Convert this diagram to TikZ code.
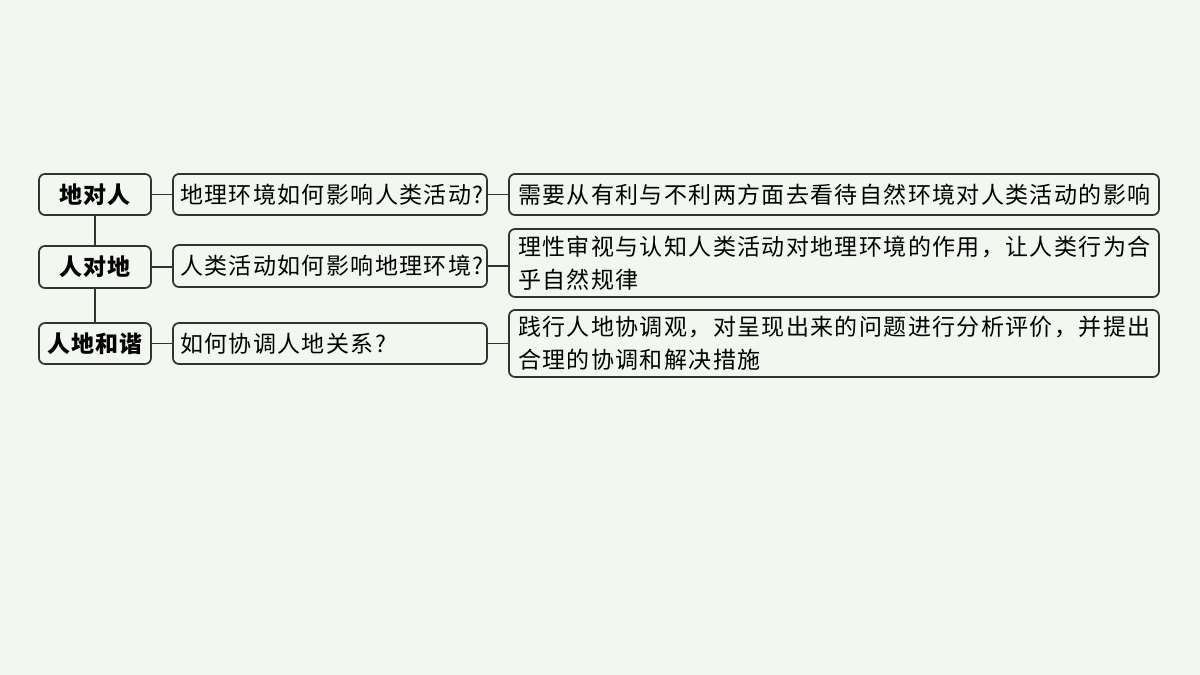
\documentclass[tikz,border=0pt]{standalone}
\usepackage{fontspec}
\setmainfont{Noto Sans CJK SC}
\newfontfamily\cjk[LetterSpace=6]{Noto Sans CJK SC}
\newfontfamily\cjkb[LetterSpace=4]{Noto Sans CJK SC}
\definecolor{bgc}{HTML}{F2F7F0}
\definecolor{linec}{HTML}{333333}
\tikzset{
  box/.style={draw=linec, line width=0.85pt, rounded corners=3pt,
    font=\cjk\fontsize{11.5}{16.5}\selectfont, anchor=center, inner ysep=0pt},
  topic/.style={box, minimum width=56pt, minimum height=20.5pt, inner xsep=0pt, font=\cjkb\bfseries\fontsize{11.5}{16.5}\selectfont},
  question/.style={box, text width=150pt, inner xsep=3.5pt, align=left, minimum height=20.5pt},
  answer/.style={box, text width=316pt, inner xsep=4.5pt, align=left},
  link/.style={draw=linec, line width=0.85pt}
}
\begin{document}
\begin{tikzpicture}[x=0.5pt,y=-0.5pt]
\fill[bgc] (0,0) rectangle (1200,675);
\useasboundingbox (0,0) rectangle (1200,675);
% left topics
\node[topic] (l1) at (95,194.5) {地对人};
\node[topic, minimum height=21pt] (l2) at (95,267) {人对地};
\node[topic] (l3) at (95,343.5) {人地和谐};
% questions
\node[question] (q1) at (330,194.5) {地理环境如何影响人类活动?};
\node[question, minimum height=21pt] (q2) at (330,266) {人类活动如何影响地理环境?};
\node[question] (q3) at (330,343.5) {如何协调人地关系?};
% answers
\node[answer, minimum height=20.5pt] (r1) at (834,194.5) {需要从有利与不利两方面去看待自然环境对人类活动的影响};
\node[answer, minimum height=34pt] (r2) at (834,263) {理性审视与认知人类活动对地理环境的作用，让人类行为合\\乎自然规律};
\node[answer, minimum height=33.5pt] (r3) at (834,343.5) {践行人地协调观，对呈现出来的问题进行分析评价，并提出\\合理的协调和解决措施};
% connectors
\draw[link] (l1.south) -- (l2.north);
\draw[link] (l2.south) -- (l3.north);
\draw[link] (l1.east) -- (q1.west);
\draw[link] (l2.east) -- (q2.west |- l2.east);
\draw[link] (l3.east) -- (q3.west);
\draw[link] (q1.east) -- (r1.west);
\draw[link] (q2.east) -- (r2.west |- q2.east);
\draw[link] (q3.east) -- (r3.west);
\end{tikzpicture}
\end{document}
